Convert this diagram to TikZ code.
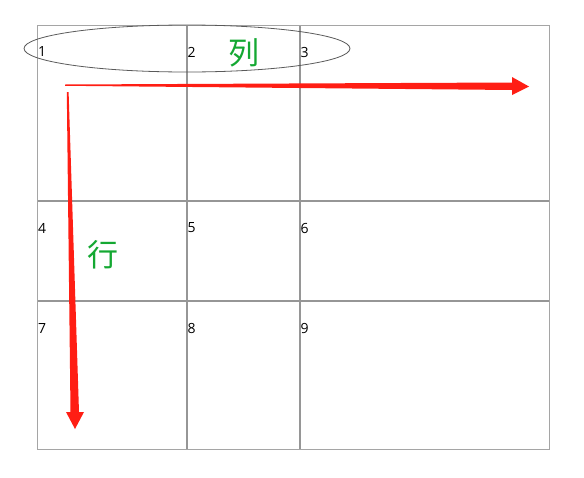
\documentclass[tikz,border=0pt]{standalone}
\usepackage{fontspec}
\setmainfont{Open Sans}
\newfontfamily\cjk{Noto Sans CJK SC}
\usetikzlibrary{shapes.geometric}
\definecolor{gridc}{RGB}{150,150,150}
\definecolor{outerc}{RGB}{165,165,165}
\definecolor{ellc}{RGB}{90,90,90}
\definecolor{arrc}{RGB}{255,30,20}
\definecolor{labc}{RGB}{20,168,50}
\begin{document}
\begin{tikzpicture}[x=1pt,y=-1pt,
  num/.style={anchor=west,inner sep=0pt,font=\fontsize{14}{14}\selectfont},
  cjklab/.style={inner sep=0pt,text=labc,font=\cjk\fontsize{31}{31}\selectfont},
  inner/.style={draw=gridc,line width=2pt},
  redarrow/.style={fill=arrc,draw=none}]
\useasboundingbox (0,0) rectangle (584,477);
% grid
\draw[inner] (186.5,25) -- (186.5,449);
\draw[inner] (299.5,25) -- (299.5,449);
\draw[inner] (37,200.5) -- (549,200.5);
\draw[inner] (37,300.5) -- (549,300.5);
\draw[draw=outerc,line width=1pt] (37,25) rectangle (549,449);
% numbers
\node[num] (n1) at (38,52) {1};
\node[num] (n2) at (187.5,52) {2};
\node[num] (n3) at (300.5,52) {3};
\node[num] (n4) at (38,228) {4};
\node[num] (n5) at (187.5,228) {5};
\node[num] (n6) at (300.5,228) {6};
\node[num] (n7) at (38,328) {7};
\node[num] (n8) at (187.5,328) {8};
\node[num] (n9) at (300.5,328) {9};
% ellipse
\node[ellipse,draw=ellc,line width=0.8pt,minimum width=326pt,minimum height=47pt,inner sep=0pt] (ell) at (187,48.5) {};
% labels
\node[cjklab] (lie) at (244,53) {列};
\node[cjklab] (hang) at (103,255) {行};
% arrows
\fill[redarrow] (65,84.5) -- (512,82.5) -- (512,77) -- (529,86.5) -- (512,95) -- (512,90) -- (65,85.8) -- cycle;
\fill[redarrow] (66.8,92) -- (68.6,92) -- (79,412) -- (84,412) -- (75,429) -- (66,412) -- (70.5,412) -- cycle;
\end{tikzpicture}
\end{document}
